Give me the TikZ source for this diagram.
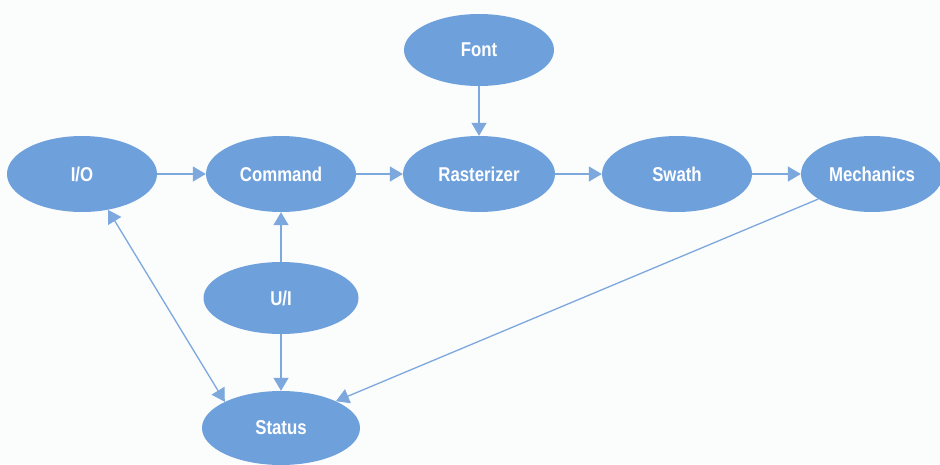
\documentclass[tikz,border=0pt]{standalone}
\usepackage{fontspec}
\setsansfont{Liberation Sans}[FakeStretch=0.84]
\usetikzlibrary{shapes.geometric,arrows.meta}
\definecolor{blobfill}{RGB}{110,160,220}
\definecolor{linkblue}{RGB}{125,168,222}
\definecolor{paper}{RGB}{251,252,252}

\begin{document}
\begin{tikzpicture}[x=1pt,y=-1pt,
	unit/.style={ellipse, fill=blobfill, text=white, inner sep=0pt,
		minimum width=150pt, minimum height=76pt,
		font=\sffamily\bfseries\fontsize{20}{22}\selectfont},
	link/.style={draw=linkblue, line width=1.3pt,
		-{Triangle[length=13pt,width=15pt]}}]
\clip (0,0) rectangle (940,464);
\fill[paper] (0,0) rectangle (940,464);
\node[unit, minimum height=72pt] (font) at (479,50) {Font};
\node[unit] (io) at (82,174) {I/O};
\node[unit] (command) at (281,174) {Command};
\node[unit, minimum width=152pt] (raster) at (479,174) {Rasterizer};
\node[unit] (swath) at (677,174) {Swath};
\node[unit, minimum width=142pt] (mech) at (872,174) {Mechanics};
\node[unit, minimum width=155pt, minimum height=72pt] (ui) at (281,298) {U/I};
\node[unit, minimum width=158pt, minimum height=74pt] (status) at (281,428) {Status};
% data path
\draw[link] (io) -- (command);
\draw[link] (command) -- (raster);
\draw[link] (font) -- (raster);
\draw[link] (raster) -- (swath);
\draw[link] (swath) -- (mech);
% status paths
\draw[link] (ui) -- (command);
\draw[link] (ui) -- (status);
\draw[link, {Triangle[length=13pt,width=15pt]}-{Triangle[length=13pt,width=15pt]}] (io.-54) -- (status.155);
\draw[link] (mech.205) -- (status.26);
\end{tikzpicture}
\end{document}
